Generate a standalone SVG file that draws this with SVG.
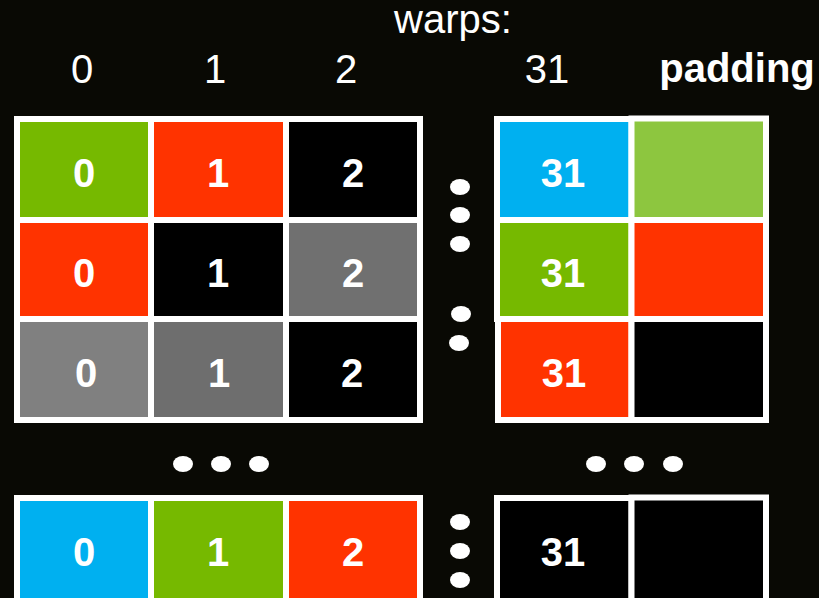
<svg xmlns="http://www.w3.org/2000/svg" width="819" height="598" viewBox="0 0 819 598">
<style>
.c{stroke:#fff;stroke-width:6}
.n{font-family:"Liberation Sans",Arial,sans-serif;font-weight:bold;font-size:40px;fill:#fff;text-anchor:middle}
.h{font-family:"Liberation Sans",Arial,sans-serif;font-size:40px;fill:#fff;text-anchor:middle}
.d{fill:#fff}
</style>
<rect width="819" height="598" fill="#090904"/>
<g id="header">
<text class="h" x="453" y="33">warps:</text>
<text class="h" x="82" y="83">0</text>
<text class="h" x="215" y="83">1</text>
<text class="h" x="346" y="83">2</text>
<text class="h" x="547" y="83">31</text>
<text class="n" x="737" y="82">padding</text>
</g>
<g id="left-grid">
<g id="r0c0"><rect class="c" x="17" y="119" width="134" height="101" fill="#76b900"/><text class="n" x="84" y="187">0</text></g>
<g id="r0c1"><rect class="c" x="151" y="119" width="135" height="101" fill="#ff3300"/><text class="n" x="218" y="187">1</text></g>
<g id="r0c2"><rect class="c" x="286" y="119" width="134" height="101" fill="#000"/><text class="n" x="353" y="187">2</text></g>
<g id="r1c0"><rect class="c" x="17" y="220" width="134" height="99" fill="#ff3300"/><text class="n" x="84" y="287">0</text></g>
<g id="r1c1"><rect class="c" x="151" y="220" width="135" height="99" fill="#000"/><text class="n" x="218" y="287">1</text></g>
<g id="r1c2"><rect class="c" x="286" y="220" width="134" height="99" fill="#707070"/><text class="n" x="353" y="287">2</text></g>
<g id="r2c0"><rect class="c" x="17" y="319" width="134" height="101" fill="#808080"/><text class="n" x="86" y="387">0</text></g>
<g id="r2c1"><rect class="c" x="151" y="319" width="135" height="101" fill="#6e6e6e"/><text class="n" x="219" y="387">1</text></g>
<g id="r2c2"><rect class="c" x="286" y="319" width="134" height="101" fill="#000"/><text class="n" x="352" y="387">2</text></g>
</g>
<g id="right-grid">
<g id="r0c31"><rect class="c" x="497" y="119" width="134.5" height="101" fill="#00b0f0"/><text class="n" x="563" y="187">31</text></g>
<g id="r0pad"><rect class="c" x="631.5" y="118.5" width="134.5" height="101.5" fill="#8dc63f"/></g>
<g id="r1c31"><rect class="c" x="497" y="220" width="134.5" height="99" fill="#76b900"/><text class="n" x="563" y="287">31</text></g>
<g id="r1pad"><rect class="c" x="631.5" y="220" width="134.5" height="99" fill="#ff3300"/></g>
<g id="r2c31"><rect class="c" x="498" y="319" width="133.5" height="101" fill="#ff3300"/><text class="n" x="564" y="387">31</text></g>
<g id="r2pad"><rect class="c" x="631.5" y="319" width="134.5" height="101" fill="#000"/></g>
</g>
<g id="bottom-row">
<g id="b0"><rect class="c" x="17" y="498" width="134" height="120" fill="#00b0f0"/><text class="n" x="84" y="566">0</text></g>
<g id="b1"><rect class="c" x="151" y="498" width="135" height="120" fill="#76b900"/><text class="n" x="218" y="566">1</text></g>
<g id="b2"><rect class="c" x="286" y="498" width="134" height="120" fill="#ff3300"/><text class="n" x="353" y="566">2</text></g>
<g id="b31"><rect class="c" x="497" y="498" width="134.5" height="120" fill="#000"/><text class="n" x="563" y="566">31</text></g>
<g id="bpad"><rect class="c" x="631.5" y="497.5" width="134.5" height="120" fill="#000"/></g>
</g>
<g id="ellipses">
<ellipse class="d" cx="460" cy="187" rx="10" ry="8"/>
<ellipse class="d" cx="460" cy="215" rx="10" ry="8"/>
<ellipse class="d" cx="460" cy="244" rx="10" ry="8"/>
<ellipse class="d" cx="461" cy="314" rx="10" ry="8"/>
<ellipse class="d" cx="459" cy="343" rx="10" ry="8"/>
<ellipse class="d" cx="183" cy="464" rx="10" ry="8"/>
<ellipse class="d" cx="221" cy="464" rx="10" ry="8"/>
<ellipse class="d" cx="259" cy="464" rx="10" ry="8"/>
<ellipse class="d" cx="596" cy="464" rx="10" ry="8"/>
<ellipse class="d" cx="634" cy="464" rx="10" ry="8"/>
<ellipse class="d" cx="673" cy="464" rx="10" ry="8"/>
<ellipse class="d" cx="460" cy="522" rx="10" ry="8"/>
<ellipse class="d" cx="460" cy="551" rx="10" ry="8"/>
<ellipse class="d" cx="460" cy="580" rx="10" ry="8"/>
</g>
</svg>
